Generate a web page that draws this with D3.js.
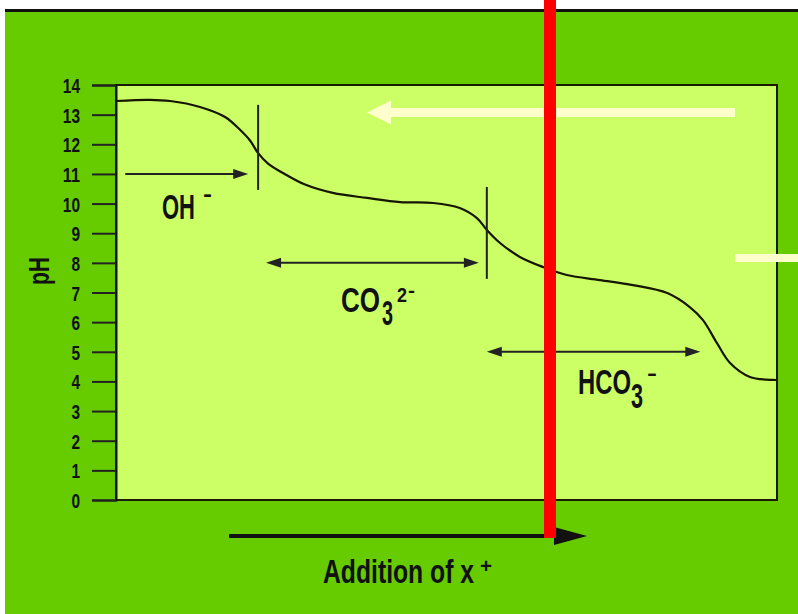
<!DOCTYPE html>
<html>
<head>
<meta charset="utf-8">
<script src="https://cdn.jsdelivr.net/npm/d3@7"></script>
<style>
  html, body { margin: 0; padding: 0; background: #ffffff; }
  svg { display: block; }
  text { font-family: "Liberation Sans", Arial, sans-serif; fill: #111; }
</style>
</head>
<body>
<svg id="chart" width="798" height="614"></svg>
<script>
// Titration of an alkaline solution: pH against the amount of acid (x+) added.
const additionSteps = [0, 5.1, 8.2, 12.7, 16.5, 18.8, 20.3, 21.5, 23.0, 25.5, 28.5, 32.8, 38.0, 43.0, 48.0, 52.0, 54.6, 56.1, 58.1, 61.1, 64.6, 68.2, 73.2, 78.2, 83.4, 86.8, 88.8, 90.9, 92.9, 95.9, 99.4, 100];
const phValues      = [13.46, 13.50, 13.46, 13.26, 12.92, 12.48, 12.12, 11.70, 11.35, 11.00, 10.65, 10.36, 10.19, 10.05, 10.02, 9.85, 9.51, 9.11, 8.67, 8.20, 7.86, 7.59, 7.42, 7.25, 6.98, 6.51, 6.07, 5.30, 4.62, 4.15, 4.05, 4.05];

const phTicks = [0, 1, 2, 3, 4, 5, 6, 7, 8, 9, 10, 11, 12, 13, 14];

// equivalence points: position along the addition axis and the pH span of the marker
const endpointAt   = [21.5, 56.1];
const endpointFrom = [10.46, 7.46];
const endpointTo   = [13.33, 10.56];

// ranges in which each species is neutralised
const rangeStart    = [1.4, 22.7, 56.1];
const rangeEnd      = [20.0, 54.9, 88.4];
const rangePh       = [11, 8, 5];
const rangeBothEnds = [false, true, true];

const svg = d3.select("#chart");
const W = 798, H = 614;

// frame
svg.append("rect").attr("x", 0).attr("y", 0).attr("width", W).attr("height", H).attr("fill", "#ffffff");
svg.append("rect").attr("x", 5).attr("y", 10).attr("width", W - 5).attr("height", H - 10).attr("fill", "#66cc00");
svg.append("rect").attr("x", 5).attr("y", 9).attr("width", W - 5).attr("height", 3).attr("fill", "#111");

const plot = { left: 116, right: 777, top: 85, bottom: 500 };

const x = d3.scaleLinear().domain([0, 100]).range([plot.left, plot.right]);
const y = d3.scaleLinear().domain([0, 14]).range([plot.bottom, plot.top]);

// plot panel
svg.append("rect")
  .attr("x", plot.left).attr("y", plot.top)
  .attr("width", plot.right - plot.left).attr("height", plot.bottom - plot.top)
  .attr("fill", "#ccff66")
  .attr("stroke", "#1a1a00").attr("stroke-width", 2);

// condensed text: drawn at its natural size, then squeezed horizontally to `width`
function condensed(parent, px, py, str, size, width, anchor, extra) {
  const t = parent.append("text")
    .attr("font-size", size)
    .attr("font-weight", "bold")
    .attr("text-anchor", anchor || "start")
    .text(str);
  const natural = t.node().getComputedTextLength() || width;
  t.attr("transform", `translate(${px},${py})${extra || ""} scale(${width / natural},1)`);
  return t;
}

// pH axis
const yAxis = svg.append("g")
  .attr("transform", `translate(${plot.left},0)`)
  .call(d3.axisLeft(y).tickValues(phTicks).tickSize(24).tickPadding(12).tickFormat(""));
yAxis.select(".domain").attr("stroke", "#111").attr("stroke-width", 2);
yAxis.selectAll(".tick line").attr("stroke", "#222").attr("stroke-width", 2);
yAxis.selectAll(".tick").each(function (d) {
  condensed(d3.select(this), -36, 7.5, d3.format("d")(d), 21, String(d).length * 8.6, "end");
});

// pH title
condensed(svg, 49, 271, "pH", 30, 28, "middle", " rotate(-90)");

// titration curve
const line = d3.line()
  .x((d, i) => x(additionSteps[i]))
  .y(d => y(d))
  .curve(d3.curveCatmullRom.alpha(0.5));
svg.append("path")
  .datum(phValues)
  .attr("d", line)
  .attr("fill", "none")
  .attr("stroke", "#161600")
  .attr("stroke-width", 2.2);

// endpoint markers
endpointAt.forEach((v, i) => {
  svg.append("line")
    .attr("x1", x(v)).attr("x2", x(v))
    .attr("y1", y(endpointTo[i])).attr("y2", y(endpointFrom[i]))
    .attr("stroke", "#222").attr("stroke-width", 2);
});

// arrowheads
function head(tipX, tipY, dir, len, half, color) {
  svg.append("path")
    .attr("d", `M${tipX},${tipY} L${tipX - dir * len},${tipY - half} L${tipX - dir * len},${tipY + half} Z`)
    .attr("fill", color);
}

rangeStart.forEach((s, i) => {
  const x0 = x(s), x1 = x(rangeEnd[i]), yy = y(rangePh[i]);
  svg.append("line")
    .attr("x1", x0 + (rangeBothEnds[i] ? 6 : 0)).attr("x2", x1 - 6)
    .attr("y1", yy).attr("y2", yy)
    .attr("stroke", "#222").attr("stroke-width", 2);
  head(x1, yy, 1, 15, 5, "#222");
  if (rangeBothEnds[i]) head(x0, yy, -1, 15, 5, "#222");
});

// species labels with sub/superscripts
condensed(svg, 162, 219, "OH", 35, 33);
condensed(svg, 203, 201, "-", 22, 9);

condensed(svg, 341, 312, "CO", 35, 39);
condensed(svg, 382, 325, "3", 35, 11);
condensed(svg, 397, 302, "2", 20, 10);
condensed(svg, 408, 297, "-", 18, 7);

condensed(svg, 578, 394, "HCO", 35, 53);
condensed(svg, 631, 408, "3", 35, 12);
condensed(svg, 647, 380, "-", 20, 10);

// axis direction arrow and caption
svg.append("rect").attr("x", 229).attr("y", 534).attr("width", 330).attr("height", 4).attr("fill", "#111");
head(587, 536, 1, 33, 9, "#111");
condensed(svg, 323, 583, "Addition of x", 34, 151);
condensed(svg, 480, 573, "+", 20, 12);

// pale arrows
svg.append("rect").attr("x", 388).attr("y", 108).attr("width", 347).attr("height", 9).attr("fill", "#ffffcc");
head(367, 112.5, -1, 24, 12, "#ffffcc");
svg.append("rect").attr("x", 735).attr("y", 254).attr("width", 63).attr("height", 8).attr("fill", "#ffffcc");

// red marker line
svg.append("rect").attr("x", 544).attr("y", 0).attr("width", 12).attr("height", 538).attr("fill", "#ff0000");
</script>
</body>
</html>
